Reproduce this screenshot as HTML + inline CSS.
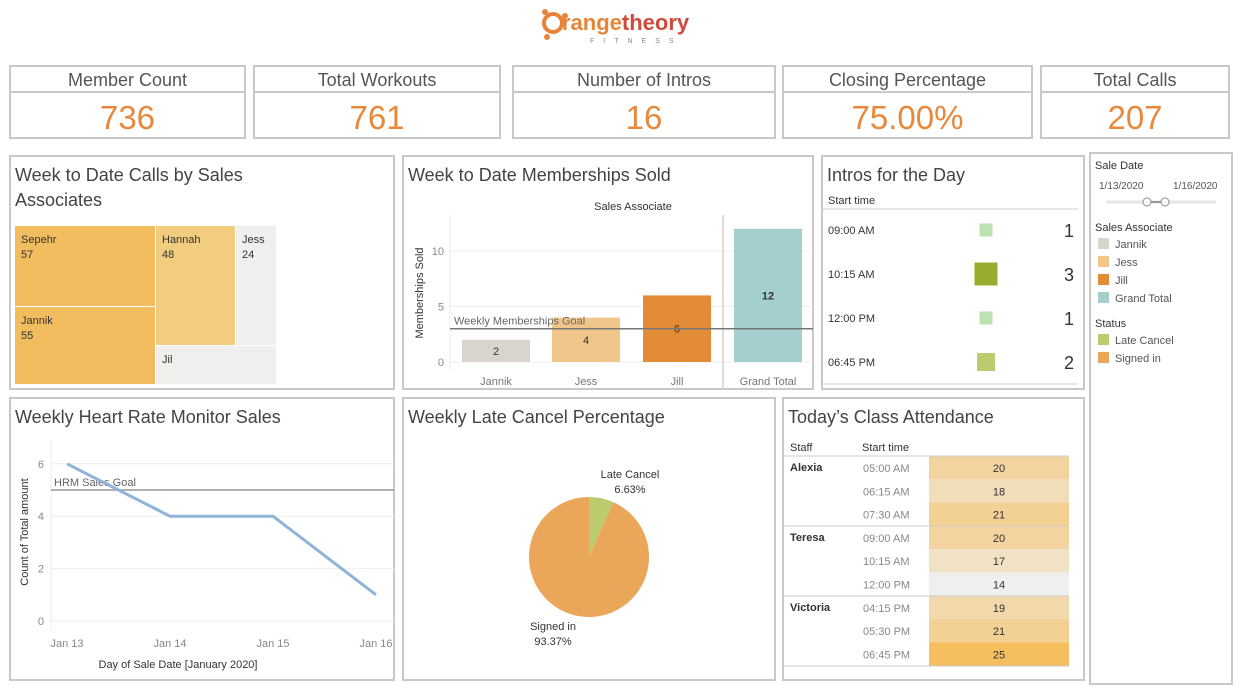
<!DOCTYPE html>
<html><head><meta charset="utf-8"><style>
body{margin:0;width:1246px;height:696px;background:#fff;font-family:"Liberation Sans",sans-serif;overflow:hidden}
svg{display:block}
text{font-family:"Liberation Sans",sans-serif}
</style></head><body>
<svg id="s" width="1246" height="696" viewBox="0 0 1246 696">
<g>
<circle cx="553" cy="23" r="9" fill="none" stroke="#e8843a" stroke-width="4"/>
<circle cx="545" cy="12" r="3" fill="#e8843a"/><circle cx="547" cy="37" r="3" fill="#e8843a"/><circle cx="565" cy="16" r="3" fill="#e8843a"/>
<text x="562" y="30" font-size="22" fill="#e8843a" font-weight="bold">range<tspan fill="#d1493b">theory</tspan></text>
<text x="590" y="43" font-size="7" fill="#888" letter-spacing="9">FITNESS</text>
</g>
<g id="kpis"></g>
<g id="panels"></g>
<g id="treemap"></g>
<g id="bars"></g>
<g id="intros"></g>
<g id="filters"></g>
<g id="hrm"></g>
<g id="pie"></g>
<g id="attend"></g>
</svg>
<script>
const NS="http://www.w3.org/2000/svg";
function mk(p,tag,a,txt){const e=document.createElementNS(NS,tag);for(const k in a)e.setAttribute(k,a[k]);if(txt!==undefined)e.textContent=txt;p.appendChild(e);return e;}
const $=id=>document.getElementById(id);

// KPI data
const kpiTitles=["Member Count","Total Workouts","Number of Intros","Closing Percentage","Total Calls"];
const kpiValues=["736","761","16","75.00%","207"];
const kpiBoxes=[[10,245],[254,500],[513,775],[783,1032],[1041,1229]];
kpiTitles.forEach((t,i)=>{
 const [x0,x1]=kpiBoxes[i];const g=$("kpis");
 let r=mk(g,"rect",{x:x0,y:66,width:x1-x0,height:72,fill:"#fff",stroke:"#c8c8c8","stroke-width":2});
 
 
 mk(g,"line",{x1:x0,x2:x1,y1:92,y2:92,stroke:"#c8c8c8","stroke-width":2});
 let a=mk(g,"text",{x:(x0+x1)/2,y:86,"font-size":18,fill:"#555","text-anchor":"middle"},t);
 
 
 let b=mk(g,"text",{x:(x0+x1)/2,y:129,"font-size":33,fill:"#e8883a","text-anchor":"middle"},kpiValues[i]);
 
 
});

// panels
const panels=[[10,156,384,233,"Week to Date Calls by Sales","Associates"],[403,156,410,233,"Week to Date Memberships Sold"],[822,156,262,233,"Intros for the Day"],[10,398,384,282,"Weekly Heart Rate Monitor Sales"],[403,398,372,282,"Weekly Late Cancel Percentage"],[783,398,301,282,"Today’s Class Attendance"],[1090,153,142,531,""]];
panels.forEach(p=>{const g=$("panels");
 let r=mk(g,"rect",{x:p[0],y:p[1],width:p[2],height:p[3],fill:"none",stroke:"#c8c8c8","stroke-width":2});
 
 
 if(p[4]){let t=mk(g,"text",{x:p[0]+5,y:p[1]+25,"font-size":18,fill:"#444"},p[4]);
 
 }
 if(p[5]){mk(g,"text",{x:p[0]+5,y:p[1]+50,"font-size":18,fill:"#444"},p[5]);}
});

// Treemap
const tmNames=["Sepehr","Jannik","Hannah","Jess","Jil"];
const tmValues=[57,55,48,24,null];
const tmColors=["#f2bd5e","#f2bd5e","#f2cd80","#f0efed","#f0efed"];
const tmRects=[[15,226,140,80],[15,307,140,77],[156,226,79,119],[236,226,40,119],[156,346,120,38]];
tmNames.forEach((n,i)=>{const g=$("treemap");const r=tmRects[i];
 let e=mk(g,"rect",{x:r[0],y:r[1],width:r[2],height:r[3],fill:tmColors[i]});
 
 
 mk(g,"text",{x:r[0]+6,y:r[1]+17,"font-size":11,fill:"#333"},n);
 if(tmValues[i]!==null)mk(g,"text",{x:r[0]+6,y:r[1]+32,"font-size":11,fill:"#333"},String(tmValues[i]));
});

// Bar chart
const barCats=["Jannik","Jess","Jill","Grand Total"];
const barVals=[2,4,6,12];
const barColors=["#dad4cf","#f0c68a","#e28c37","#a4cfcf"];
const barTicks=[0,5,10];
const barGoal=3;
{const g=$("bars");const y=v=>362-v*11.1;const x0=[462,552,643,734];
 mk(g,"text",{x:633,y:210,"font-size":11,fill:"#333","text-anchor":"middle"},"Sales Associate");
 barTicks.forEach(t=>{mk(g,"line",{x1:450,x2:813,y1:y(t),y2:y(t),stroke:"#eee"});
  let tt=mk(g,"text",{x:444,y:y(t)+4,"font-size":11,fill:"#888","text-anchor":"end"},String(t));
  
  });
 mk(g,"line",{x1:450,x2:450,y1:215,y2:370,stroke:"#eee"});
 mk(g,"line",{x1:723,x2:723,y1:215,y2:389,stroke:"#ddd","stroke-width":2});
 let yt=mk(g,"text",{transform:"translate(423,293) rotate(-90)","font-size":11,fill:"#333","text-anchor":"middle"},"Memberships Sold");
 
 
 barCats.forEach((c,i)=>{
  let b=mk(g,"rect",{x:x0[i],y:y(barVals[i]),width:68,height:barVals[i]*11.1,fill:barColors[i]});
  
  
  mk(g,"text",{x:x0[i]+34,y:y(barVals[i]/2)+4,"font-size":11,fill:"#333","text-anchor":"middle","font-weight":i==3?"bold":"normal"},String(barVals[i]));
  mk(g,"text",{x:x0[i]+34,y:385,"font-size":11,fill:"#777","text-anchor":"middle"},c);
 });
 mk(g,"line",{x1:450,x2:813,y1:y(barGoal),y2:y(barGoal),stroke:"#777","stroke-width":1.5});
 let gl=mk(g,"text",{x:454,y:y(barGoal)-4,"font-size":11,fill:"#666"},"Weekly Memberships Goal");
 
 
}

// Intros
const introTimes=["09:00 AM","10:15 AM","12:00 PM","06:45 PM"];
const introCounts=[1,3,1,2];
const introColors=["#bde2b0","#97ad2f","#bde2b0","#bccb6e"];
{const g=$("intros");
 mk(g,"text",{x:828,y:204,"font-size":11,fill:"#333"},"Start time");
 mk(g,"line",{x1:823,x2:1078,y1:209,y2:209,stroke:"#ccc"});
 mk(g,"line",{x1:823,x2:1078,y1:384,y2:384,stroke:"#ccc"});
 introTimes.forEach((t,i)=>{const cy=230+i*44;const s=8+introCounts[i]*5;
  mk(g,"text",{x:828,y:cy+4,"font-size":11,fill:"#333"},t);
  let r=mk(g,"rect",{x:986-s/2,y:cy-s/2,width:s,height:s,fill:introColors[i]});
  
  
  mk(g,"text",{x:1069,y:cy+7,"font-size":18,fill:"#333","text-anchor":"middle"},String(introCounts[i]));
 });
}

// Filters / legends
{const g=$("filters");
 mk(g,"text",{x:1095,y:169,"font-size":11,fill:"#333"},"Sale Date");
 mk(g,"text",{x:1099,y:189,"font-size":10,fill:"#555"},"1/13/2020");
 mk(g,"text",{x:1173,y:189,"font-size":10,fill:"#555"},"1/16/2020");
 mk(g,"line",{x1:1106,x2:1216,y1:202,y2:202,stroke:"#e6e6e6","stroke-width":3});
 let sl=mk(g,"line",{x1:1148,x2:1165,y1:202,y2:202,stroke:"#999","stroke-width":2});
 
 
 mk(g,"circle",{cx:1147,cy:202,r:4,fill:"#fff",stroke:"#888"});
 mk(g,"circle",{cx:1165,cy:202,r:4,fill:"#fff",stroke:"#888"});
 mk(g,"text",{x:1095,y:231,"font-size":11,fill:"#333"},"Sales Associate");
 const leg=[["Jannik","#dad4cf"],["Jess","#f0c68a"],["Jill","#e28c37"],["Grand Total","#a4cfcf"]];
 leg.forEach((l,i)=>{let r=mk(g,"rect",{x:1098,y:238+i*18,width:11,height:11,fill:l[1]});
  
  
  mk(g,"text",{x:1115,y:248+i*18,"font-size":11,fill:"#555"},l[0]);});
 mk(g,"text",{x:1095,y:327,"font-size":11,fill:"#333"},"Status");
 [["Late Cancel","#bccb6e"],["Signed in","#eaa75a"]].forEach((l,i)=>{let r=mk(g,"rect",{x:1098,y:334+i*18,width:11,height:11,fill:l[1]});
  
  
  mk(g,"text",{x:1115,y:344+i*18,"font-size":11,fill:"#555"},l[0]);});
}

// HRM line
const hrmDates=["Jan 13","Jan 14","Jan 15","Jan 16"];
const hrmVals=[6,4,4,1];
const hrmTicks=[0,2,4,6];
const hrmGoal=5;
{const g=$("hrm");const y=v=>621-v*26.2;const x=i=>67+i*103;
 hrmTicks.forEach(t=>{mk(g,"line",{x1:51,x2:394,y1:y(t),y2:y(t),stroke:"#eee"});
  let tt=mk(g,"text",{x:44,y:y(t)+4,"font-size":11,fill:"#888","text-anchor":"end"},String(t));
  
  });
 mk(g,"line",{x1:51,x2:51,y1:440,y2:630,stroke:"#eee"});
 hrmDates.forEach((d,i)=>{mk(g,"text",{x:x(i),y:647,"font-size":11,fill:"#888","text-anchor":"middle"},d);});
 let xt=mk(g,"text",{x:178,y:668,"font-size":11,fill:"#333","text-anchor":"middle"},"Day of Sale Date [January 2020]");
 
 
 let yt=mk(g,"text",{transform:"translate(28,532) rotate(-90)","font-size":11,fill:"#333","text-anchor":"middle"},"Count of Total amount");
 
 
 mk(g,"line",{x1:51,x2:394,y1:y(hrmGoal),y2:y(hrmGoal),stroke:"#999","stroke-width":1.5});
 mk(g,"text",{x:54,y:y(hrmGoal)-4,"font-size":11,fill:"#666"},"HRM Sales Goal");
 let pl=mk(g,"polyline",{points:hrmVals.map((v,i)=>x(i)+","+y(v)).join(" "),fill:"none",stroke:"#8fb4d8","stroke-width":3});
 
 
}

// Pie
const pieLabels=["Late Cancel","Signed in"];
const pieVals=[6.63,93.37];
const pieColors=["#bccb6e","#eaa75a"];
{const g=$("pie");const cx=589,cy=557,R=60;let a0=0;
 pieVals.forEach((v,i)=>{const a1=a0+v/100*2*Math.PI;
  const p0=[cx+R*Math.sin(a0),cy-R*Math.cos(a0)],p1=[cx+R*Math.sin(a1),cy-R*Math.cos(a1)];
  let s=mk(g,"path",{d:`M${cx},${cy}L${p0[0]},${p0[1]}A${R},${R} 0 ${a1-a0>Math.PI?1:0} 1 ${p1[0]},${p1[1]}Z`,fill:pieColors[i]});
  
  
  a0=a1;});
 mk(g,"text",{x:630,y:478,"font-size":11,fill:"#333","text-anchor":"middle"},pieLabels[0]);
 mk(g,"text",{x:630,y:493,"font-size":11,fill:"#333","text-anchor":"middle"},pieVals[0].toFixed(2)+"%");
 mk(g,"text",{x:553,y:630,"font-size":11,fill:"#333","text-anchor":"middle"},pieLabels[1]);
 mk(g,"text",{x:553,y:645,"font-size":11,fill:"#333","text-anchor":"middle"},pieVals[1].toFixed(2)+"%");
}

// Attendance heat table
const attStaff=["Alexia","Teresa","Victoria"];
const attTimes=["05:00 AM","06:15 AM","07:30 AM","09:00 AM","10:15 AM","12:00 PM","04:15 PM","05:30 PM","06:45 PM"];
const attVals=[20,18,21,20,17,14,19,21,25];
{const g=$("attend");
 mk(g,"text",{x:790,y:451,"font-size":11,fill:"#333"},"Staff");
 mk(g,"text",{x:862,y:451,"font-size":11,fill:"#333"},"Start time");
 const col=v=>{const t=Math.max(0,Math.min(1,(v-14)/11));const a=[240,239,237],b=[245,190,95];return `rgb(${a.map((c,k)=>Math.round(c+(b[k]-c)*t)).join(",")})`;};
 attTimes.forEach((t,i)=>{const y0=456+i*23.3;
  let r=mk(g,"rect",{x:929,y:y0,width:140,height:23.3,fill:col(attVals[i])});
  
  
  mk(g,"text",{x:863,y:y0+16,"font-size":11,fill:"#888"},t);
  mk(g,"text",{x:999,y:y0+16,"font-size":11,fill:"#333","text-anchor":"middle"},String(attVals[i]));
 });
 attStaff.forEach((s,i)=>{const y0=456+i*70;
  mk(g,"line",{x1:784,x2:1069,y1:y0,y2:y0,stroke:"#ccc"});
  mk(g,"text",{x:790,y:y0+15,"font-size":11,fill:"#333","font-weight":"bold"},s);});
 mk(g,"line",{x1:784,x2:1069,y1:666,y2:666,stroke:"#ccc"});
}
</script>
</body></html>
